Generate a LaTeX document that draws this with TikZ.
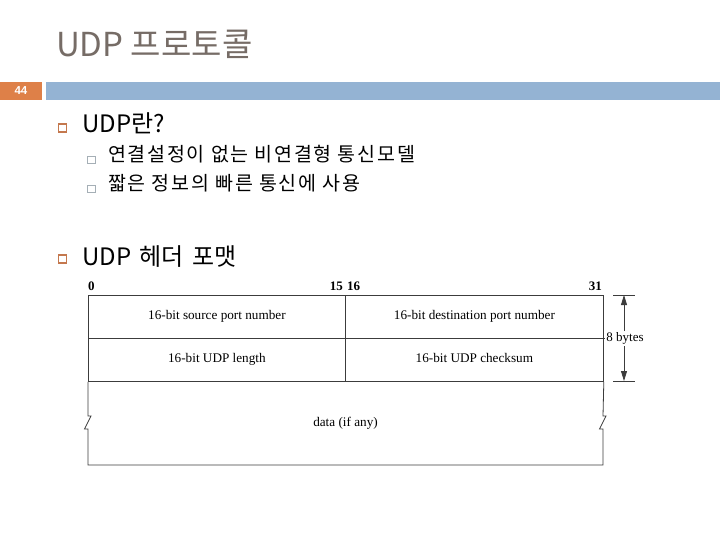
\documentclass[tikz,border=0pt]{standalone}
\usepackage{fontspec}
\setmainfont{Liberation Serif}
\newfontfamily\kofont{Noto Sans CJK KR}
\newfontfamily\kowide{Noto Sans CJK KR}[LetterSpace=9]
\newfontfamily\numfont{Liberation Sans}
\usepackage{tikz}
\usetikzlibrary{arrows.meta, positioning, calc}
\usepackage{xcolor}
\definecolor{titlegray}{RGB}{118,108,102}
\definecolor{barblue}{RGB}{148,179,211}
\definecolor{barorange}{RGB}{222,128,72}
\definecolor{boxorange}{RGB}{196,120,78}
\definecolor{linegray}{RGB}{60,60,60}
\definecolor{subgray}{RGB}{165,175,182}

\begin{document}
\begin{tikzpicture}[x=1pt, y=-1pt,
  field/.style={draw=linegray, line width=0.8pt, minimum height=43pt, inner sep=0pt,
    anchor=north west, text height=9pt, text depth=3pt, font=\fontsize{13.2}{15}\selectfont},
  bitnum/.style={font=\fontsize{13}{15}\selectfont\bfseries, inner sep=0pt},
  bullet/.style={draw=boxorange, line width=1.8pt},
  subbullet/.style={draw=subgray, line width=0.8pt},
  bigtext/.style={font=\kofont\fontsize{24}{28}\selectfont, anchor=base west, inner sep=0pt},
  subtext/.style={font=\kowide\fontsize{19.5}{24}\selectfont, anchor=base west, inner sep=0pt}]
  \useasboundingbox (0,0) rectangle (720,540);
  \fill[white] (0,0) rectangle (720,540);

  % title and bar
  \node[font=\kofont\fontsize{33}{38}\selectfont, text=titlegray, anchor=base west, inner sep=0pt]
    (title) at (56,57) {UDP 프로토콜};
  \fill[barorange] (0,82) rectangle (42,100);
  \fill[barblue] (46,82) rectangle (720,100);
  \node[font=\numfont\fontsize{11.5}{13}\selectfont\bfseries, text=white] (page) at (21,91) {44};

  % bullets
  \draw[bullet] (58.5,124) rectangle (66.5,132);
  \node[bigtext] (what) at (82,133) {UDP란?};
  \draw[subbullet] (87,156) rectangle (95,163);
  \node[subtext] (desc1) at (108,162) {연결설정이 없는 비연결형 통신모델};
  \draw[subbullet] (87,185) rectangle (95,192);
  \node[subtext] (desc2) at (108,191) {짧은 정보의 빠른 통신에 사용};
  \draw[bullet] (58.5,255) rectangle (66.5,263);
  \node[bigtext] (format) at (82,265) {UDP\hspace{3pt} 헤더\hspace{3pt} 포맷};

  % header fields
  \node[field, minimum width=257pt] (srcport) at (88,295) {16-bit source port number};
  \node[field, minimum width=258pt] (dstport) at (345,295) {16-bit destination port number};
  \node[field, minimum width=257pt] (udplen) at (88,338) {16-bit UDP length};
  \node[field, minimum width=258pt] (chksum) at (345,338) {16-bit UDP checksum};

  % data area with breaks
  \draw[linegray, line width=0.8pt] (udplen.south west) -- (88,416) -- (91,416) -- (84.5,429)
    -- (88,429) -- (88,465) -- (603,465) -- (603,429) -- (599.5,429) -- (606,416) -- (603,416)
    -- (chksum.south east);
  \node[font=\fontsize{13.2}{15}\selectfont] (data) at (345.5,423) {data (if any)};

  % bit numbers
  \node[bitnum, anchor=base west] (b0) at (88,290) {0};
  \node[bitnum, anchor=base east] (b15) at (343,290) {15};
  \node[bitnum, anchor=base west] (b16) at (347,290) {16};
  \node[bitnum, anchor=base east] (b31) at (602,290) {31};

  % size arrow
  \node[font=\fontsize{13}{15}\selectfont, inner sep=1pt] (bytes) at (625,338) {8 bytes};
  \coordinate (toptick) at (624,295);
  \coordinate (bottick) at (624,381);
  \draw[linegray, line width=0.8pt] ($(toptick)+(-11,0)$) -- ($(toptick)+(11,0)$);
  \draw[linegray, line width=0.8pt] ($(bottick)+(-11,0)$) -- ($(bottick)+(11,0)$);
  \draw[linegray, line width=0.8pt] (chksum.north east) -- (bytes.west);
  \draw[linegray, line width=0.8pt, -{Triangle[length=10pt, width=6pt]}] (624,331) -- (toptick);
  \draw[linegray, line width=0.8pt, -{Triangle[length=10pt, width=6pt]}] (624,346) -- (bottick);
\end{tikzpicture}
\end{document}
